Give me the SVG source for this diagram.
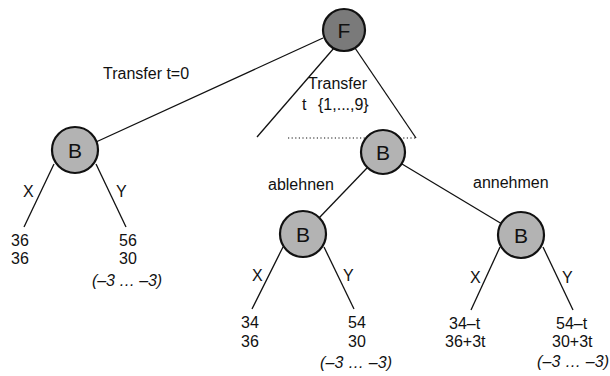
<svg xmlns="http://www.w3.org/2000/svg" width="610" height="376" viewBox="0 0 610 376">
<style>
text{font-family:"Liberation Sans","Noto Sans",Arial,sans-serif;font-size:16px;fill:#111}
.it{font-style:italic}
.nl{font-size:21px;text-anchor:middle}
.e{stroke:#111;stroke-width:1.3;fill:none}
.n{stroke:#111;stroke-width:2.2}
.f{fill:#7a7a7a}
.b{fill:#b3b3b3}
</style>
<rect width="610" height="376" fill="#fff"/>
<g id="connectors">
<line class="e" x1="323" y1="38" x2="96" y2="142"/>
<line class="e" x1="334" y1="48" x2="257" y2="137"/>
<line class="e" x1="355" y1="48" x2="416" y2="138"/>
<line x1="288" y1="138" x2="416" y2="138" stroke="#111" stroke-width="1.2" stroke-dasharray="1.2,2.4"/>
<line class="e" x1="367" y1="168" x2="319" y2="218"/>
<line class="e" x1="402" y1="164" x2="502" y2="224"/>
<line class="e" x1="54" y1="164" x2="24" y2="227"/>
<line class="e" x1="96" y1="164" x2="126" y2="227"/>
<line class="e" x1="283" y1="247" x2="252" y2="309"/>
<line class="e" x1="324" y1="247" x2="354" y2="309"/>
<line class="e" x1="500" y1="247" x2="471" y2="310"/>
<line class="e" x1="543" y1="247" x2="573" y2="310"/>
</g>
<g id="F"><circle class="n f" cx="344" cy="30" r="21"/><text class="nl" x="344" y="37.5">F</text></g>
<g id="B1"><circle class="n b" cx="75" cy="150" r="23"/><text class="nl" x="75" y="157.5">B</text></g>
<g id="B2"><circle class="n b" cx="383" cy="152" r="22"/><text class="nl" x="383" y="159.5">B</text></g>
<g id="B3"><circle class="n b" cx="303" cy="234" r="23"/><text class="nl" x="303" y="241.5">B</text></g>
<g id="B4"><circle class="n b" cx="521" cy="235" r="23"/><text class="nl" x="521" y="242.5">B</text></g>
<g id="labels">
<text x="103" y="79">Transfer t=0</text>
<text x="308" y="89">Transfer<tspan x="302" dy="21">t</tspan><tspan x="318">{1,...,9}</tspan></text>
<text x="268" y="190">ablehnen</text>
<text x="473" y="188">annehmen</text>
<text x="23" y="197">X</text>
<text x="116" y="197">Y</text>
<text x="252" y="281">X</text>
<text x="343" y="281">Y</text>
<text x="470" y="283">X</text>
<text x="562" y="283">Y</text>
<text x="11" y="246">36<tspan x="11" dy="18">36</tspan></text>
<text x="119" y="246">56<tspan x="119" dy="18">30</tspan><tspan class="it" x="92" dy="22" textLength="70">(–3 … –3)</tspan></text>
<text x="241" y="328">34<tspan x="241" dy="19">36</tspan></text>
<text x="348" y="328">54<tspan x="348" dy="19">30</tspan><tspan class="it" x="320" dy="21" textLength="72">(–3 … –3)</tspan></text>
<text x="449" y="329">34–t<tspan x="445" dy="18">36+3t</tspan></text>
<text x="556" y="329">54–t<tspan x="552" dy="18">30+3t</tspan><tspan class="it" x="537" dy="20" textLength="72">(–3 … –3)</tspan></text>
</g>
</svg>
